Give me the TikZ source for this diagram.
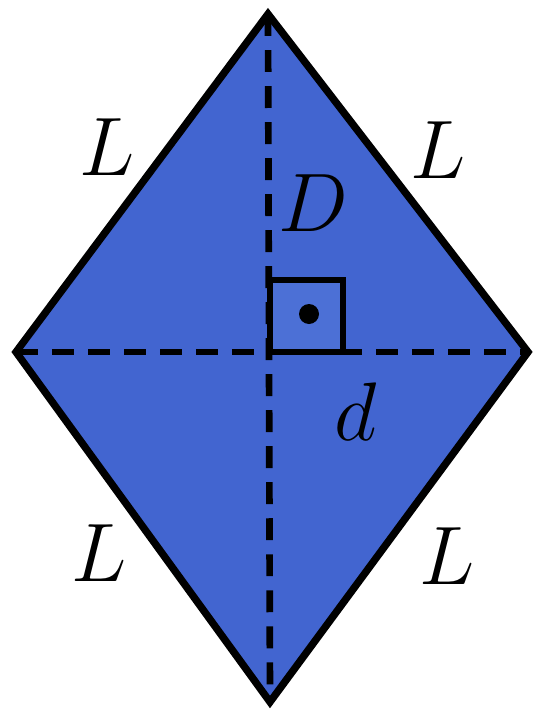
\documentclass[tikz,border=0pt]{standalone}
\usepackage{xcolor}
\definecolor{rhombfill}{RGB}{66,101,208}
\definecolor{sqfill}{RGB}{76,112,214}
\tikzset{
  outline/.style={line width=4.2pt, line join=miter},
  diag/.style={line width=3.8pt, dash pattern=on 12.5pt off 8pt},
  lbl/.style={inner sep=0pt, font=\Huge, scale=1.9},
}
\begin{document}
\begin{tikzpicture}[x=0.02cm, y=-0.02cm]
\useasboundingbox (0,0) rectangle (534,710);
\coordinate (T) at (268,14);
\coordinate (Lf) at (16,352);
\coordinate (R) at (528,352);
\coordinate (B) at (270,702);
\fill[rhombfill] (T) -- (R) -- (B) -- (Lf) -- cycle;
\draw[diag] (T) -- (B);
\draw[diag] (Lf) -- (R);
\coordinate (S1) at (270,280);
\coordinate (S2) at (343,352);
\filldraw[fill=sqfill, line width=3.5pt] (S1) rectangle (S2);
\fill (309,314) circle[radius=10];
\draw[outline] (T) -- (R) -- (B) -- (Lf) -- cycle;
\node[lbl] (l1) at (107,147) {$L$};
\node[lbl] (l2) at (438,150) {$L$};
\node[lbl] (l3) at (99,553) {$L$};
\node[lbl] (l4) at (447,556) {$L$};
\node[lbl] (dD) at (313,203) {$D$};
\node[lbl] (dd) at (356,412) {$d$};
\end{tikzpicture}
\end{document}
